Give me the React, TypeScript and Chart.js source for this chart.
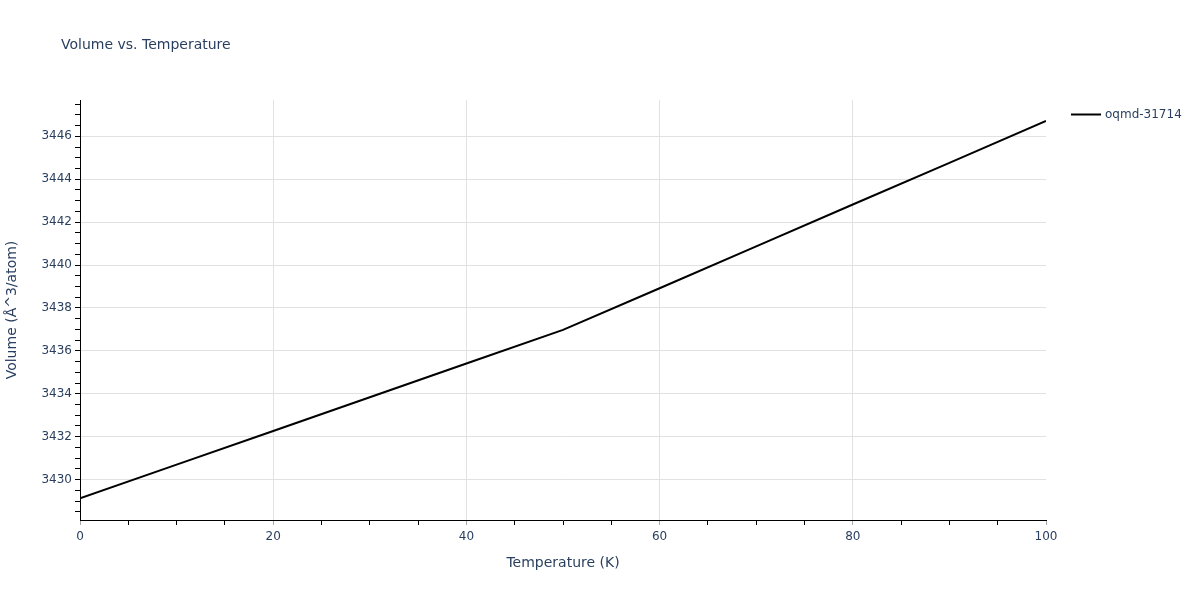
import { useEffect, useRef } from 'react';
import { Chart, registerables } from 'chart.js';

Chart.register(...registerables);

const chartTitle = 'Volume vs. Temperature';
const seriesName = 'oqmd-31714';
const xTitle = 'Temperature (K)';
const yTitle = 'Volume (Å^3/atom)';

const temperatures = [0, 10, 20, 30, 40, 50, 60, 70, 80, 90, 100];
const volumes = [
  3429.13, 3430.7, 3432.27, 3433.84, 3435.41, 3436.98,
  3438.92, 3440.87, 3442.82, 3444.76, 3446.71,
];

const xMajorTicks = [0, 20, 40, 60, 80, 100];
const xGridLines = [20, 40, 60, 80];
const yMajorTicks = [3430, 3432, 3434, 3436, 3438, 3440, 3442, 3444, 3446];

const textColor = '#2a3f5f';
const gridColor = '#e1e1e1';
const fontFamily = '"DejaVu Sans", verdana, arial, sans-serif';

// title + legend, drawn the way plotly lays them out
const decorations = {
  id: 'decorations',
  afterDraw(chart: Chart) {
    const ctx = chart.ctx;
    ctx.save();
    ctx.fillStyle = textColor;
    ctx.textBaseline = 'middle';
    ctx.textAlign = 'left';
    ctx.font = `14px ${fontFamily}`;
    ctx.fillText(chartTitle, 61, 45);

    ctx.strokeStyle = '#000';
    ctx.lineWidth = 2;
    ctx.beginPath();
    ctx.moveTo(1071, 114.5);
    ctx.lineTo(1101, 114.5);
    ctx.stroke();
    ctx.font = `12px ${fontFamily}`;
    ctx.fillText(seriesName, 1105, 115);
    ctx.restore();
  },
};

export default function App() {
  const canvasRef = useRef<HTMLCanvasElement>(null);
  const chartRef = useRef<Chart | null>(null);

  useEffect(() => {
    if (!canvasRef.current) return;
    chartRef.current?.destroy();
    chartRef.current = new Chart(canvasRef.current, {
      type: 'line',
      data: {
        datasets: [{
          label: seriesName,
          data: temperatures.map((t, i) => ({ x: t, y: volumes[i] })),
          borderColor: '#000',
          borderWidth: 2,
          pointRadius: 0,
          tension: 0,
          fill: false,
        }],
      },
      options: {
        responsive: false,
        animation: false,
        layout: { padding: { left: 0, right: 154, top: 100, bottom: 0 } },
        plugins: {
          legend: { display: false },
          title: { display: false },
          tooltip: { enabled: false },
        },
        scales: {
          x: {
            type: 'linear',
            min: 0,
            max: 100,
            afterBuildTicks: (scale: any) => {
              const ticks = [];
              for (let v = 0; v <= 100; v += 5) ticks.push({ value: v });
              scale.ticks = ticks;
            },
            afterFit: (scale: any) => { scale.height = 80; },
            border: { color: '#000', width: 1 },
            grid: {
              color: (c: any) => (xGridLines.includes(c.tick?.value) ? gridColor : 'rgba(0,0,0,0)'),
              tickColor: (c: any) => (xMajorTicks.includes(c.tick?.value) ? '#aaa' : '#000'),
              tickLength: 5,
              drawTicks: true,
            },
            ticks: {
              autoSkip: false,
              maxRotation: 0,
              padding: 5,
              color: textColor,
              font: { family: fontFamily, size: 12 },
              callback: (v: any) => (xMajorTicks.includes(Number(v)) ? String(v) : ''),
            },
            title: {
              display: true,
              text: xTitle,
              color: textColor,
              font: { family: fontFamily, size: 14 },
              padding: { top: 0, bottom: 28 },
            },
          },
          y: {
            type: 'linear',
            min: 3428.12,
            max: 3447.69,
            afterBuildTicks: (scale: any) => {
              const ticks = [];
              for (let v = Math.ceil(scale.min * 2) / 2; v <= scale.max; v += 0.5) ticks.push({ value: v });
              scale.ticks = ticks;
            },
            afterFit: (scale: any) => { scale.width = 80; },
            border: { color: '#000', width: 1 },
            grid: {
              color: (c: any) => (yMajorTicks.includes(c.tick?.value) ? gridColor : 'rgba(0,0,0,0)'),
              tickColor: '#000',
              tickLength: 5,
              drawTicks: true,
            },
            ticks: {
              autoSkip: false,
              padding: 3,
              color: textColor,
              font: { family: fontFamily, size: 12 },
              callback: (v: any) => (yMajorTicks.includes(Number(v)) ? String(v) : ''),
            },
            title: {
              display: true,
              text: yTitle,
              color: textColor,
              font: { family: fontFamily, size: 14 },
              padding: { top: 4, bottom: 0 },
            },
          },
        },
      },
      plugins: [decorations],
    });
    return () => chartRef.current?.destroy();
  }, []);

  return (
    <div style={{ position: 'fixed', left: 0, top: 0, width: 1200, height: 600, background: '#fff' }}>
      <canvas ref={canvasRef} width={1200} height={600} style={{ display: 'block' }} />
    </div>
  );
}
